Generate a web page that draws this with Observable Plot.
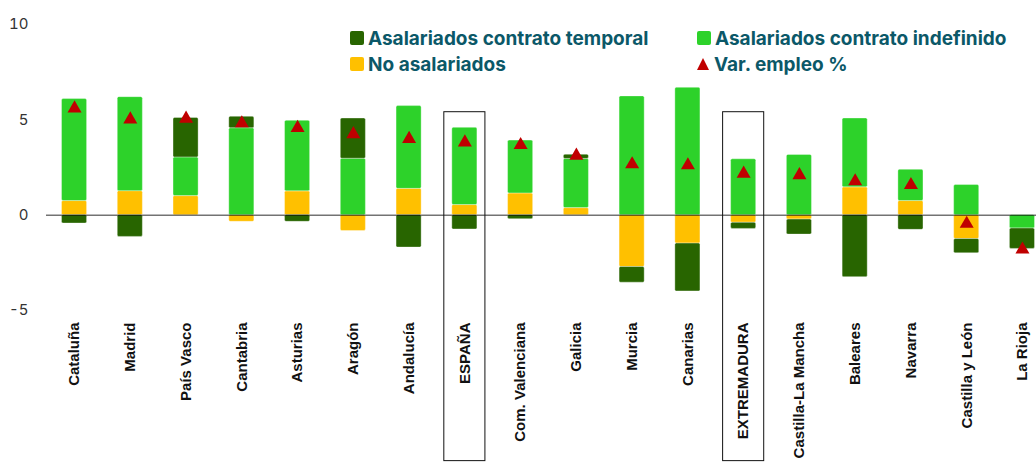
<!DOCTYPE html>
<html>
<head>
<meta charset="utf-8">
<script src="https://cdn.jsdelivr.net/npm/d3@7"></script>
<script src="https://cdn.jsdelivr.net/npm/@observablehq/plot@0.6"></script>
<style>
  html, body { margin: 0; padding: 0; background: #fff; }
  #wrap { position: relative; width: 1036px; height: 472px; }
  #legend { position: absolute; left: 0; top: 0; font-family: Inter, "Noto Sans", sans-serif; font-weight: 700; font-size: 19px; color: #0b5868; }
  .item { position: absolute; display: flex; align-items: center; white-space: nowrap; }
  .sw { width: 14px; height: 14px; border-radius: 2px; margin-right: 4px; }
  .tri { width: 0; height: 0; border-left: 6px solid transparent; border-right: 6px solid transparent; border-bottom: 12px solid #c00000; margin-right: 5px; }
</style>
</head>
<body>
<div id="wrap"><div id="chart"></div><div id="legend"></div></div>
<script>
const regions = ["Cataluña","Madrid","País Vasco","Cantabria","Asturias","Aragón","Andalucía","ESPAÑA","Com. Valenciana","Galicia","Murcia","Canarias","EXTREMADURA","Castilla-La Mancha","Baleares","Navarra","Castilla y León","La Rioja"];
const noAsalariados = [0.74, 1.26, 1.00, -0.35, 1.25, -0.83, 1.38, 0.53, 1.14, 0.37, -2.72, -1.49, -0.40, -0.23, 1.46, 0.74, -1.25, 0.00];
const indefinido    = [5.35, 4.93, 2.03, 4.56, 3.70, 2.96, 4.34, 4.05, 2.77, 2.58, 6.23, 6.68, 2.93, 3.16, 3.61, 1.64, 1.58, -0.70];
const temporal      = [-0.44, -1.14, 2.07, 0.60, -0.35, 2.11, -1.70, -0.75, -0.21, 0.22, -0.82, -2.51, -0.32, -0.79, -3.25, -0.77, -0.75, -1.07];
const varEmpleo     = [5.60, 5.02, 5.06, 4.82, 4.58, 4.25, 4.00, 3.82, 3.68, 3.12, 2.67, 2.62, 2.18, 2.10, 1.78, 1.58, -0.45, -1.80];
const seriesNames = ["No asalariados","Asalariados contrato indefinido","Asalariados contrato temporal"];
const seriesColors = ["#ffc000","#2dd22a","#286500"];
const highlighted = ["ESPAÑA","EXTREMADURA"];
const boxTop = 5.4, boxBottom = -12.9;
const yTicks = [-5, 0, 5, 10];

const long = [];
regions.forEach((r, i) => {
  [noAsalariados, indefinido, temporal].forEach((arr, k) => {
    long.push({region: r, series: seriesNames[k], value: arr[i]});
  });
});
const pts = regions.map((r, i) => ({region: r, v: varEmpleo[i]}));
const boxes = highlighted.map(r => ({region: r, y1: boxTop, y2: boxBottom}));

const chart = Plot.plot({
  width: 1036,
  height: 472,
  marginLeft: 46,
  marginRight: 0,
  marginTop: 24,
  marginBottom: 162,
  style: {background: "white", overflow: "visible"},
  x: {type: "band", domain: regions, paddingInner: 0.55, paddingOuter: 0, round: false, insetLeft: 15.5, insetRight: 1.5, label: null},
  y: {domain: [-5, 10], label: null},
  color: {domain: seriesNames, range: seriesColors},
  marks: [
    Plot.barY(long, Plot.stackY({x: "region", y: "value", fill: "series", stroke: "white", strokeOpacity: 0.35, strokeWidth: 1, rx: 1.5})),
    Plot.ruleY([0], {stroke: "#000", strokeOpacity: 0.55, strokeWidth: 1.5}),
    Plot.dot(pts, {x: "region", y: "v", symbol: "triangle", r: 5.2, fill: "#c00000", stroke: "none"}),
    Plot.barY(boxes, {x: "region", y1: "y1", y2: "y2", fill: "none", stroke: "#111", strokeWidth: 1, insetLeft: -8, insetRight: -8}),
    Plot.axisY({ticks: yTicks, tickFormat: d => String(d), tickSize: 0, tickPadding: 18, fontSize: 15, fontFamily: "Inter, sans-serif", fill: "#333", label: null}),
    Plot.axisX({tickSize: 0, tickRotate: -90, tickPadding: 12, fontSize: 15, fontWeight: "bold", fontFamily: "'Liberation Sans', Arial, sans-serif", fill: "#111", label: null})
  ]
});
document.getElementById("chart").appendChild(chart);

const legendItems = [
  {label: seriesNames[2], color: seriesColors[2], x: 350, y: 38},
  {label: seriesNames[1], color: seriesColors[1], x: 697, y: 38},
  {label: seriesNames[0], color: seriesColors[0], x: 350, y: 64},
  {label: "Var. empleo %", tri: true, x: 697, y: 64}
];
const leg = document.getElementById("legend");
legendItems.forEach(it => {
  const d = document.createElement("div");
  d.className = "item";
  d.style.left = it.x + "px";
  d.style.top = (it.y - 12) + "px";
  d.style.height = "24px";
  const s = document.createElement("div");
  if (it.tri) { s.className = "tri"; } else { s.className = "sw"; s.style.background = it.color; }
  d.appendChild(s);
  const t = document.createElement("span");
  t.textContent = it.label;
  d.appendChild(t);
  leg.appendChild(d);
});
</script>
</body>
</html>
